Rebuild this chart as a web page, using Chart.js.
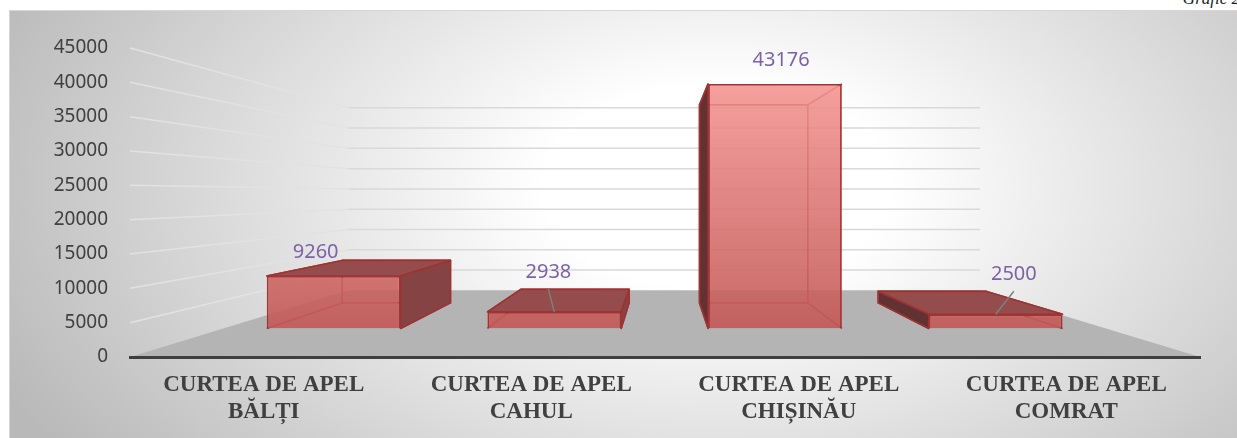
<!DOCTYPE html>
<html>
<head>
<meta charset="utf-8">
<script src="https://cdn.jsdelivr.net/npm/chart.js@4.4.1/dist/chart.umd.min.js"></script>
<style>
  html, body { margin: 0; padding: 0; background: #fff; overflow: hidden; }
  #frame {
    position: absolute; left: 9px; top: 10px; width: 1240px; height: 440px;
    border: 1px solid #d6d6d6;
    background: radial-gradient(ellipse 64% 105% at 57% 40%, #ffffff 22%, #b9b9b9 100%);
  }
  #caption { position: absolute; right: -3px; top: -11px; font: italic 17px "Liberation Serif", serif; color: #222; }
  #chart { position: absolute; left: 0; top: 0; }
</style>
</head>
<body>
<div id="frame"></div>
<div id="caption">Grafic 2</div>
<canvas id="chart" width="1237" height="438"></canvas>
<script>
const categories = [
  ["CURTEA DE APEL", "BĂLȚI"],
  ["CURTEA DE APEL", "CAHUL"],
  ["CURTEA DE APEL", "CHIȘINĂU"],
  ["CURTEA DE APEL", "COMRAT"],
];
const cases = [9260, 2938, 43176, 2500];
const yTicks = [0, 5000, 10000, 15000, 20000, 25000, 30000, 35000, 40000, 45000];

// perspective: everything scales toward one vanishing point
const VP = { x: 663, y: 194 };
const FRONT = 0.825;  // bar front faces
const BACK = 0.668;   // bar back faces
const WALL = 0.59;    // back wall
const LABEL_K = 0.87;

function proj(x, y, k) {
  return [VP.x + k * (x - VP.x), VP.y + k * (y - VP.y)];
}

function poly(ctx, pts, fill) {
  ctx.beginPath();
  ctx.moveTo(pts[0][0], pts[0][1]);
  for (let i = 1; i < pts.length; i++) ctx.lineTo(pts[i][0], pts[i][1]);
  ctx.closePath();
  if (fill) { ctx.fillStyle = fill; ctx.fill(); }
  ctx.stroke();
}

const room = {
  id: "room",
  beforeDraw(chart) {
    const { ctx, chartArea: a, scales: { y } } = chart;
    ctx.save();
    const bl = proj(a.left, a.bottom, WALL), br = proj(a.right, a.bottom, WALL);
    ctx.fillStyle = "#b4b4b4";
    ctx.beginPath();
    ctx.moveTo(a.left, a.bottom);
    ctx.lineTo(a.right, a.bottom);
    ctx.lineTo(br[0], br[1]);
    ctx.lineTo(bl[0], bl[1]);
    ctx.closePath();
    ctx.fill();

    ctx.lineWidth = 1.5;
    y.ticks.forEach((t) => {
      if (t.value === 0) return;
      const py = y.getPixelForValue(t.value);
      const b = proj(a.left, py, WALL), e = proj(a.right, py, WALL);
      ctx.strokeStyle = "#e2e2e2";
      ctx.beginPath(); ctx.moveTo(a.left, py); ctx.lineTo(b[0], b[1]); ctx.stroke();
      ctx.strokeStyle = "#d9d9d9";
      ctx.beginPath(); ctx.moveTo(b[0], b[1]); ctx.lineTo(e[0], e[1]); ctx.stroke();
    });
    ctx.restore();
  },
  beforeDatasetsDraw(chart) {
    const ctx = chart.ctx;
    chart.getDatasetMeta(0).data.forEach((bar) => {
      const l = bar.x - bar.width / 2, r = bar.x + bar.width / 2;
      const corners = [[l, bar.y], [r, bar.y], [r, bar.base], [l, bar.base]];
      const f = corners.map((p) => proj(p[0], p[1], FRONT));
      const b = corners.map((p) => proj(p[0], p[1], BACK));
      ctx.save();
      ctx.lineJoin = "round";
      ctx.lineWidth = 1.6;
      ctx.strokeStyle = "#9e3333";
      poly(ctx, b, null);
      for (let i = 0; i < 4; i++) {
        ctx.beginPath(); ctx.moveTo(f[i][0], f[i][1]); ctx.lineTo(b[i][0], b[i][1]); ctx.stroke();
      }
      if (f[0][1] > b[0][1]) poly(ctx, [f[0], f[1], b[1], b[0]], "#944c4c");
      if (f[1][0] < b[1][0]) poly(ctx, [f[1], b[1], b[2], f[2]], "#864343");
      if (f[0][0] > b[0][0]) poly(ctx, [f[0], b[0], b[3], f[3]], "#623131");
      ctx.restore();
    });
    ctx.save();
    ctx.translate(VP.x, VP.y);
    ctx.scale(FRONT, FRONT);
    ctx.translate(-VP.x, -VP.y);
  },
  afterDatasetsDraw(chart) {
    const ctx = chart.ctx;
    ctx.restore();
    ctx.save();
    ctx.font = '20px "Noto Sans"';
    ctx.textAlign = "center";
    ctx.textBaseline = "middle";
    chart.getDatasetMeta(0).data.forEach((bar, i) => {
      const top = proj(bar.x, bar.y, FRONT);
      const lx = VP.x + LABEL_K * (bar.x - VP.x);
      const small = cases[i] < 5000;
      const ly = top[1] - (small ? 40 : 24);
      if (small) {
        ctx.strokeStyle = "#7f7f7f";
        ctx.lineWidth = 1.5;
        ctx.beginPath(); ctx.moveTo(lx, ly + 17); ctx.lineTo(top[0], top[1]); ctx.stroke();
      }
      ctx.fillStyle = "#7d62a6";
      ctx.fillText(String(cases[i]), lx, ly);
    });
    ctx.restore();
  },
};

function frontFill(context) {
  const chart = context.chart;
  const a = chart.chartArea;
  if (!a) return "#d06a68";
  const g = chart.ctx.createLinearGradient(0, a.top, 0, a.bottom);
  g.addColorStop(0, "rgba(246,150,147,0.88)");
  g.addColorStop(1, "rgba(194,88,86,0.9)");
  return g;
}

new Chart(document.getElementById("chart"), {
  type: "bar",
  data: {
    labels: categories,
    datasets: [{
      data: cases,
      backgroundColor: frontFill,
      borderColor: "#a33333",
      borderWidth: 2.2,
      barPercentage: 0.606,
      categoryPercentage: 1,
    }],
  },
  options: {
    responsive: false,
    animation: false,
    layout: { padding: { top: 48, right: 37, bottom: 0, left: 0 } },
    plugins: { legend: { display: false }, tooltip: { enabled: false } },
    scales: {
      x: {
        grid: { display: false, drawTicks: false },
        border: { display: true, color: "#3f3f3f", width: 3 },
        ticks: {
          color: "#404040",
          font: { family: "Liberation Serif", size: 23, weight: "bold", lineHeight: 1.2 },
          padding: 14,
          maxRotation: 0,
          autoSkip: false,
        },
        afterFit(s) { s.height = 81; },
      },
      y: {
        min: yTicks[0],
        max: yTicks[yTicks.length - 1],
        ticks: {
          stepSize: yTicks[1] - yTicks[0],
          color: "#404040",
          font: { family: "Noto Sans", size: 19 },
          padding: 22,
          callback: (v) => String(v),
        },
        grid: { display: false, drawTicks: false },
        border: { display: false },
        afterFit(s) { s.width = 130; },
      },
    },
  },
  plugins: [room],
});
</script>
</body>
</html>
